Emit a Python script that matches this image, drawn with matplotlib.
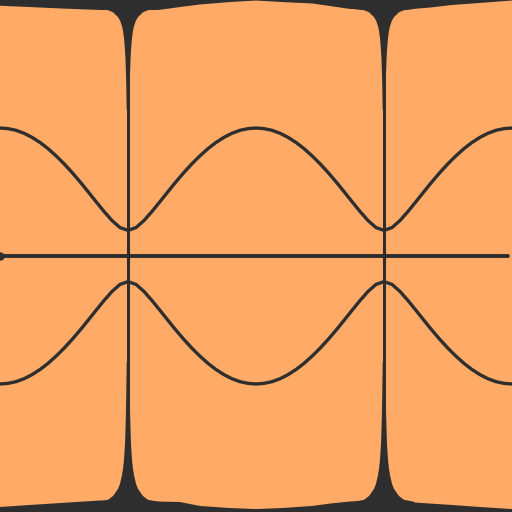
import numpy as np
import matplotlib
matplotlib.use("Agg")
import matplotlib.pyplot as plt

ORANGE = "#ffaa66"
DARK = "#2e2e2e"

# ---- data ----
# wave number samples over [-pi, pi]
k_samples = np.linspace(-np.pi, np.pi, 65)
# upper band energy at each k sample
upper_band = [1.000, 0.995, 0.982, 0.959, 0.927, 0.887, 0.839, 0.783, 0.721,
              0.653, 0.580, 0.503, 0.425, 0.348, 0.277, 0.222, 0.200,
              0.222, 0.277, 0.348, 0.425, 0.503, 0.580, 0.653, 0.721,
              0.783, 0.839, 0.887, 0.927, 0.959, 0.982, 0.995, 1.000,
              0.995, 0.982, 0.959, 0.927, 0.887, 0.839, 0.783, 0.721,
              0.653, 0.580, 0.503, 0.425, 0.348, 0.277, 0.222, 0.200,
              0.222, 0.277, 0.348, 0.425, 0.503, 0.580, 0.653, 0.721,
              0.783, 0.839, 0.887, 0.927, 0.959, 0.982, 0.995, 1.000]
lower_band = [-e for e in upper_band]
# zero-energy line
flat_k = [-np.pi, 0.985 * np.pi]
flat_e = [0.0, 0.0]
# band-gap closing positions (vertical lines)
gap_k = [-np.pi / 2, np.pi / 2]

# dark border thickness along the top / bottom (in energy units)
border_k = [-3.142, -2.774, -2.405, -1.914, -1.571, -1.202, -0.933, -0.687,
            -0.319, 0.0, 0.319, 0.687, 0.908, 1.154, 1.571, 1.767, 2.135,
            2.405, 2.749, 3.142]
top_border = [0.045, 0.055, 0.066, 0.078, 0.078, 0.078, 0.055, 0.035,
              0.016, 0.004, 0.016, 0.027, 0.047, 0.070, 0.078, 0.078, 0.059,
              0.039, 0.023, 0.004]
bottom_border = [0.039, 0.055, 0.070, 0.090, 0.090, 0.082, 0.078, 0.047,
                 0.031, 0.023, 0.031, 0.047, 0.066, 0.082, 0.090, 0.082, 0.066,
                 0.055, 0.039, 0.023]
# cusp profile around each gap position: offset (rad) vs depth (energy)
cusp_offset = [0.37, 0.245, 0.184, 0.123, 0.098, 0.074, 0.061, 0.049, 0.037,
               0.031, 0.025, 0.020, 0.016]
cusp_top_depth = [0.070, 0.080, 0.096, 0.133, 0.160, 0.203, 0.242, 0.297,
                  0.391, 0.461, 0.570, 0.703, 0.859]
cusp_bottom_depth = [0.080, 0.095, 0.125, 0.180, 0.220, 0.287, 0.336, 0.410,
                     0.531, 0.633, 0.781, 0.969, 1.172]

Y_MIN, Y_MAX = -2.0, 2.0

fig = plt.figure(figsize=(5.12, 5.12), dpi=100)
fig.patch.set_facecolor(ORANGE)
ax = fig.add_axes([0, 0, 1, 1])
ax.set_xlim(-np.pi, np.pi)
ax.set_ylim(Y_MIN, Y_MAX)
ax.axis("off")

# borders
ax.fill_between(border_k, [Y_MAX - t for t in top_border], Y_MAX + 0.1,
                color=DARK, lw=0)
ax.fill_between(border_k, Y_MIN - 0.1, [Y_MIN + t for t in bottom_border],
                color=DARK, lw=0)

# cusps
for kc in gap_k:
    xs = [kc - o for o in cusp_offset] + [kc + o for o in cusp_offset[::-1]]
    top = [Y_MAX - d for d in cusp_top_depth] + [Y_MAX - d for d in cusp_top_depth[::-1]]
    bot = [Y_MIN + d for d in cusp_bottom_depth] + [Y_MIN + d for d in cusp_bottom_depth[::-1]]
    ax.fill(xs + [xs[-1], xs[0]], top + [Y_MAX + 0.1, Y_MAX + 0.1], color=DARK, lw=0)
    ax.fill(xs + [xs[-1], xs[0]], bot + [Y_MIN - 0.1, Y_MIN - 0.1], color=DARK, lw=0)
    ax.axvline(kc, color=DARK, lw=2.2)

ax.plot(k_samples, upper_band, color=DARK, lw=2.4, solid_capstyle="round")
ax.plot(k_samples, lower_band, color=DARK, lw=2.4, solid_capstyle="round")
ax.plot(flat_k, flat_e, color=DARK, lw=2.8, solid_capstyle="round")
ax.plot([flat_k[0]], [flat_e[0]], "o", color=DARK, ms=5, clip_on=False)

fig.savefig("out.png", dpi=100, facecolor=ORANGE)
